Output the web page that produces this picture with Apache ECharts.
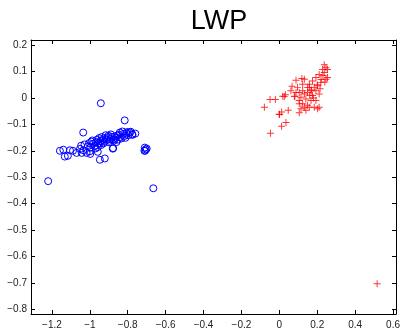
<!DOCTYPE html>
<html><head><meta charset="utf-8">
<script src="https://cdn.jsdelivr.net/npm/echarts@6/dist/echarts.min.js"></script>
<style>html,body{margin:0;padding:0;background:#fff}#c{width:403px;height:330px}</style>
</head><body><div id="c"></div>
<script>
const title = "LWP";
const xTicks = [-1.2, -1, -0.8, -0.6, -0.4, -0.2, 0, 0.2, 0.4, 0.6];
const yTicks = [0.2, 0.1, 0, -0.1, -0.2, -0.3, -0.4, -0.5, -0.6, -0.7, -0.8];
const blueX = [-1.22,-0.665,-0.942,-0.816,-0.76,-0.775,-0.79,
  -0.71,-0.705,-0.712,-0.7,-0.708,
  -0.947,-0.921,-0.879,-0.958,-0.877,-0.998,
  -1.158,-1.14,-1.132,-1.105,-1.089,-1.07,-1.043,-1.017,-1.0,-1.116,-1.035,
  -1.052,-1.046,-1.028,-1.034,-1.004,-0.997,-1.01,-0.992,-0.983,-0.975,-0.987,-0.969,
  -0.962,-0.955,-0.966,-0.951,-0.958,-0.944,-0.937,-0.946,-0.931,-0.94,
  -0.925,-0.916,-0.922,-0.911,-0.928,-0.905,-0.897,-0.902,-0.893,-0.899,
  -0.884,-0.876,-0.889,-0.871,-0.863,-0.856,-0.868,-0.852,-0.859,
  -0.846,-0.838,-0.842,-0.833,-0.824,-0.817,-0.828,-0.812,-0.803,-0.797,-0.806,-0.784,-0.776];
const blueY = [-0.315,-0.342,-0.02,-0.085,-0.135,-0.14,-0.13,
  -0.188,-0.195,-0.2,-0.192,-0.2,
  -0.234,-0.229,-0.192,-0.204,-0.19,-0.212,
  -0.2,-0.196,-0.222,-0.198,-0.2,-0.208,-0.208,-0.208,-0.202,-0.219,-0.131,
  -0.193,-0.181,-0.176,-0.198,-0.171,-0.188,-0.183,-0.166,-0.174,-0.182,-0.161,-0.191,
  -0.158,-0.172,-0.167,-0.152,-0.186,-0.163,-0.148,-0.171,-0.159,-0.178,
  -0.153,-0.141,-0.166,-0.158,-0.172,-0.149,-0.162,-0.143,-0.156,-0.168,
  -0.147,-0.157,-0.138,-0.161,-0.151,-0.142,-0.146,-0.158,-0.167,
  -0.139,-0.148,-0.131,-0.153,-0.136,-0.144,-0.127,-0.151,-0.129,-0.141,-0.134,-0.128,-0.137];
const redX = [0.516,-0.079,-0.049,-0.021,-0.047,0.012,0.035,0.0,0.012,0.047,0.018,0.032,0.082,
  0.067,0.088,0.119,0.105,0.114,0.132,0.149,0.202,0.21,0.123,0.149,0.158,0.175,0.193,0.21,
  0.228,0.237,0.254,0.246,0.254,0.096,0.105,0.132,0.149,0.167,0.184,0.193,0.175,0.202,0.219,
  0.237,0.246,0.114,0.14,0.105,0.158,0.123,0.132,0.088,0.061,0.193,0.21,0.167,0.123,0.184,
  0.14,0.105,0.026,0.079,0.158,0.0,0.22,0.23,0.24,0.17,0.2,0.18,0.16,0.215];
const redY = [-0.703,-0.035,-0.006,-0.006,-0.134,-0.107,-0.093,-0.063,-0.053,-0.047,0.006,0.012,0.006,
  0.044,0.067,0.074,-0.022,-0.041,-0.035,-0.028,-0.041,-0.035,0.027,0.04,0.052,0.064,0.077,0.089,
  0.108,0.126,0.108,0.071,0.077,0.04,0.021,0.015,0.021,0.027,0.04,0.027,0.009,0.046,0.058,
  0.096,0.114,0.003,-0.004,-0.01,0.04,0.052,0.071,0.021,0.027,-0.01,0.015,-0.01,-0.022,-0.035,
  -0.047,-0.056,0.005,0.005,-0.035,-0.062,0.07,0.085,0.06,0.03,0.05,0.0,0.01,0.035];

const fmt = v => (Math.round(v*10)/10).toString().replace('-', '\u2212');
const blue = blueX.map((x,i)=>[x, blueY[i]]);
const red = redX.map((x,i)=>[x, redY[i]]);
const XMIN=-1.3105, XMAX=0.6158, YMIN=-0.8178, YMAX=0.2193;
const lab = {fontSize:10, color:'#222', fontFamily:'Liberation Sans, Arial, sans-serif'};
function xAx(pos, show){return {type:'value', position:pos, min:XMIN, max:XMAX,
  axisLine:{show:true, onZero:false, lineStyle:{color:'#000', width:1}},
  axisTick:{show:true, inside:true, length:4, customValues:xTicks, lineStyle:{color:'#000'}},
  axisLabel:Object.assign({show:show, margin:6, customValues:xTicks, formatter:fmt}, lab),
  splitLine:{show:false}};}
function yAx(pos, show){return {type:'value', position:pos, min:YMIN, max:YMAX,
  axisLine:{show:true, onZero:false, lineStyle:{color:'#000', width:1}},
  axisTick:{show:true, inside:true, length:4, customValues:yTicks, lineStyle:{color:'#000'}},
  axisLabel:Object.assign({show:show, margin:4, customValues:yTicks, formatter:fmt}, lab),
  splitLine:{show:false}};}
const chart = echarts.init(document.getElementById('c'), null, {renderer:'canvas'});
chart.setOption({
  animation:false,
  backgroundColor:'#fff',
  title:{text:title, left:214, top:3, textAlign:'center',
    textStyle:{fontSize:27, fontWeight:'normal', color:'#000', fontFamily:'Liberation Sans, Arial, sans-serif'}},
  grid:{left:31, right:6, top:40, bottom:11, containLabel:false},
  xAxis:[xAx('bottom', true), xAx('top', false)],
  yAxis:[yAx('left', true), yAx('right', false)],
  series:[
    {type:'scatter', data:blue, symbol:'circle', symbolSize:7,
      itemStyle:{color:'rgba(0,0,0,0)', borderColor:'#0000ff', borderWidth:1, opacity:1}},
    {type:'scatter', data:red, symbol:'path://M-0.14,-1H0.14V-0.14H1V0.14H0.14V1H-0.14V0.14H-1V-0.14H-0.14Z', symbolSize:7,
      itemStyle:{color:'#ff0000'}}
  ]
});
</script></body></html>
